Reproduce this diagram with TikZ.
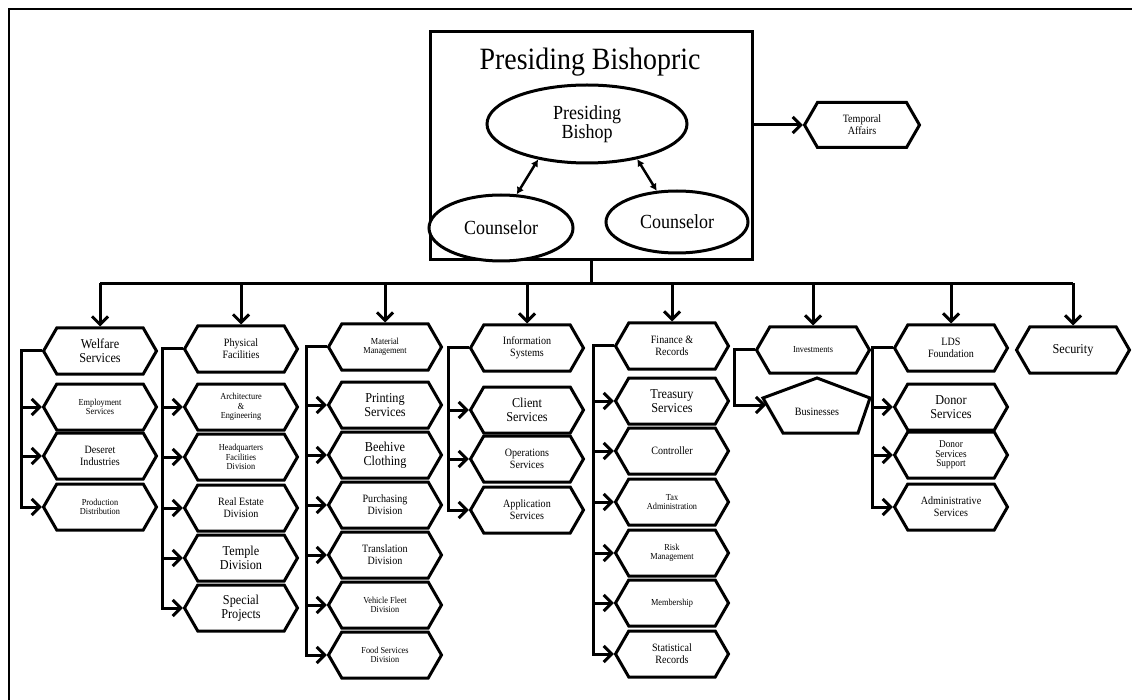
\documentclass[tikz,border=0pt]{standalone}
\usepackage{fontspec}
\setmainfont{Liberation Serif}[FakeStretch=0.9]
\usetikzlibrary{arrows.meta,shapes.symbols,shapes.geometric}

\tikzset{
  hexa/.style={shape=signal, signal to=east and west, signal pointer angle=120,
    draw, line width=3pt, minimum width=113pt, minimum height=46pt,
    inner sep=0pt, align=center},
  oval/.style={ellipse, draw, line width=3pt, fill=white, inner sep=0pt,
    align=center, font=\fontsize{20}{19}\selectfont},
  big/.style={font=\fontsize{13.6}{14.5}\selectfont},
  mid/.style={font=\fontsize{11.2}{12}\selectfont},
  small/.style={font=\fontsize{9.2}{9.4}\selectfont},
  link/.style={line width=3pt},
  arr/.style={line width=3pt, -{Straight Barb[length=8pt,width=16pt]}},
  dbl/.style={line width=2.5pt, {Latex[length=7pt,width=8pt]}-{Latex[length=7pt,width=8pt]}},
}

\begin{document}
\begin{tikzpicture}[x=1pt,y=-1pt]
  \useasboundingbox (0,0) rectangle (1132,700);
  % Draw the frame
  \draw[line width=2.5pt] (1132,9) -- (9,9) -- (9,700);

  % Draw the bishopric
  \node[draw, line width=3pt, minimum width=322pt, minimum height=228pt] (pbox) at (591,146) {};
  \node[anchor=base, font=\fontsize{31}{31}\selectfont] (title) at (590,70) {Presiding Bishopric};
  \node[oval, minimum width=200pt, minimum height=78pt] (bishop) at (587,124) {Presiding\\Bishop};
  \node[oval, minimum width=144pt, minimum height=66pt] (couns1) at (501,228) {Counselor};
  \node[oval, minimum width=142pt, minimum height=62pt] (couns2) at (677,222) {Counselor};
  \draw[dbl] (couns1.65) -- (bishop.216);
  \draw[dbl] (couns2.123) -- (bishop.325);

  % Draw temporal affairs
  \node[hexa, mid, minimum width=115pt, minimum height=45pt] (temp) at (862,125) {Temporal\\Affairs};
  \draw[arr] (pbox.east |- temp.west) -- (temp.west);

  % Draw the departments
  \node[hexa, big] (welf) at (100,351) {Welfare\\Services};
  \node[hexa, small] (emp) at (100,407) {Employment\\Services};
  \node[hexa, mid] (des) at (100,456) {Deseret\\Industries};
  \node[hexa, small] (prod) at (100,507) {Production\\Distribution};

  \node[hexa, mid] (phys) at (241,349) {Physical\\Facilities};
  \node[hexa, small] (arch) at (241,407) {Architecture\\\&\\Engineering};
  \node[hexa, small] (hq) at (241,457) {Headquarters\\Facilities\\Division};
  \node[hexa, mid] (real) at (241,508) {Real Estate\\Division};
  \node[hexa, big] (temple) at (241,558) {Temple\\Division};
  \node[hexa, big] (special) at (241,608) {Special\\Projects};

  \node[hexa, small] (mat) at (385,347) {Material\\Management};
  \node[hexa, big] (print) at (385,405) {Printing\\Services};
  \node[hexa, big] (bee) at (385,455) {Beehive\\Clothing};
  \node[hexa, mid] (purch) at (385,505) {Purchasing\\Division};
  \node[hexa, mid] (trans) at (385,555) {Translation\\Division};
  \node[hexa, small] (fleet) at (385,605) {Vehicle Fleet\\Division};
  \node[hexa, small] (food) at (385,655) {Food Services\\Division};

  \node[hexa, mid] (info) at (527,348) {Information\\Systems};
  \node[hexa, big] (client) at (527,410) {Client\\Services};
  \node[hexa, mid] (oper) at (527,459) {Operations\\Services};
  \node[hexa, mid] (app) at (527,510) {Application\\Services};

  \node[hexa, mid] (fin) at (672,346) {Finance \&\\Records};
  \node[hexa, big] (treas) at (672,401) {Treasury\\Services};
  \node[hexa, mid] (ctrl) at (672,451) {Controller};
  \node[hexa, small] (tax) at (672,502) {Tax\\Administration};
  \node[hexa, small] (risk) at (672,553) {Risk\\Management};
  \node[hexa, small] (memb) at (672,603) {Membership};
  \node[hexa, mid] (stat) at (672,654) {Statistical\\Records};

  \node[hexa, small] (inv) at (813,350) {Investments};
  \draw[link, line join=miter] (817,378) -- (870,398) -- (858,433) -- (783,433) -- (763,398) -- cycle;
  \node[mid] (biz) at (817,412) {Businesses};
  \coordinate (bizin) at (766,405);

  \node[hexa, mid] (lds) at (951,348) {LDS\\Foundation};
  \node[hexa, big] (donor) at (951,407) {Donor\\Services};
  \node[hexa, font=\fontsize{10.3}{9.5}\selectfont] (dss) at (951,455) {Donor\\Services\\Support};
  \node[hexa, mid] (admin) at (951,507) {Administrative\\Services};

  \node[hexa, big] (sec) at (1073,350) {Security};

  % Draw the bus and the drops
  \draw[link] (pbox.south) -- ++(0,22) coordinate (hub);
  \draw[link] (welf.north |- hub) -- (sec.north |- hub);
  \foreach \h in {welf,phys,mat,info,fin,inv,lds,sec}
    \draw[arr] (\h.north |- hub) -- (\h.north);

  % Draw the branches
  \foreach \h/\kids in {welf/{emp,des,prod}, phys/{arch,hq,real,temple,special},
      mat/{print,bee,purch,trans,fleet,food}, info/{client,oper,app},
      fin/{treas,ctrl,tax,risk,memb,stat}, lds/{donor,dss,admin}}
    \foreach \c in \kids
      \draw[arr] (\h.west) -- ++(-20,0) |- (\c.west);
  \draw[arr] (inv.west) -- ++(-20,0) |- (bizin);
\end{tikzpicture}
\end{document}
